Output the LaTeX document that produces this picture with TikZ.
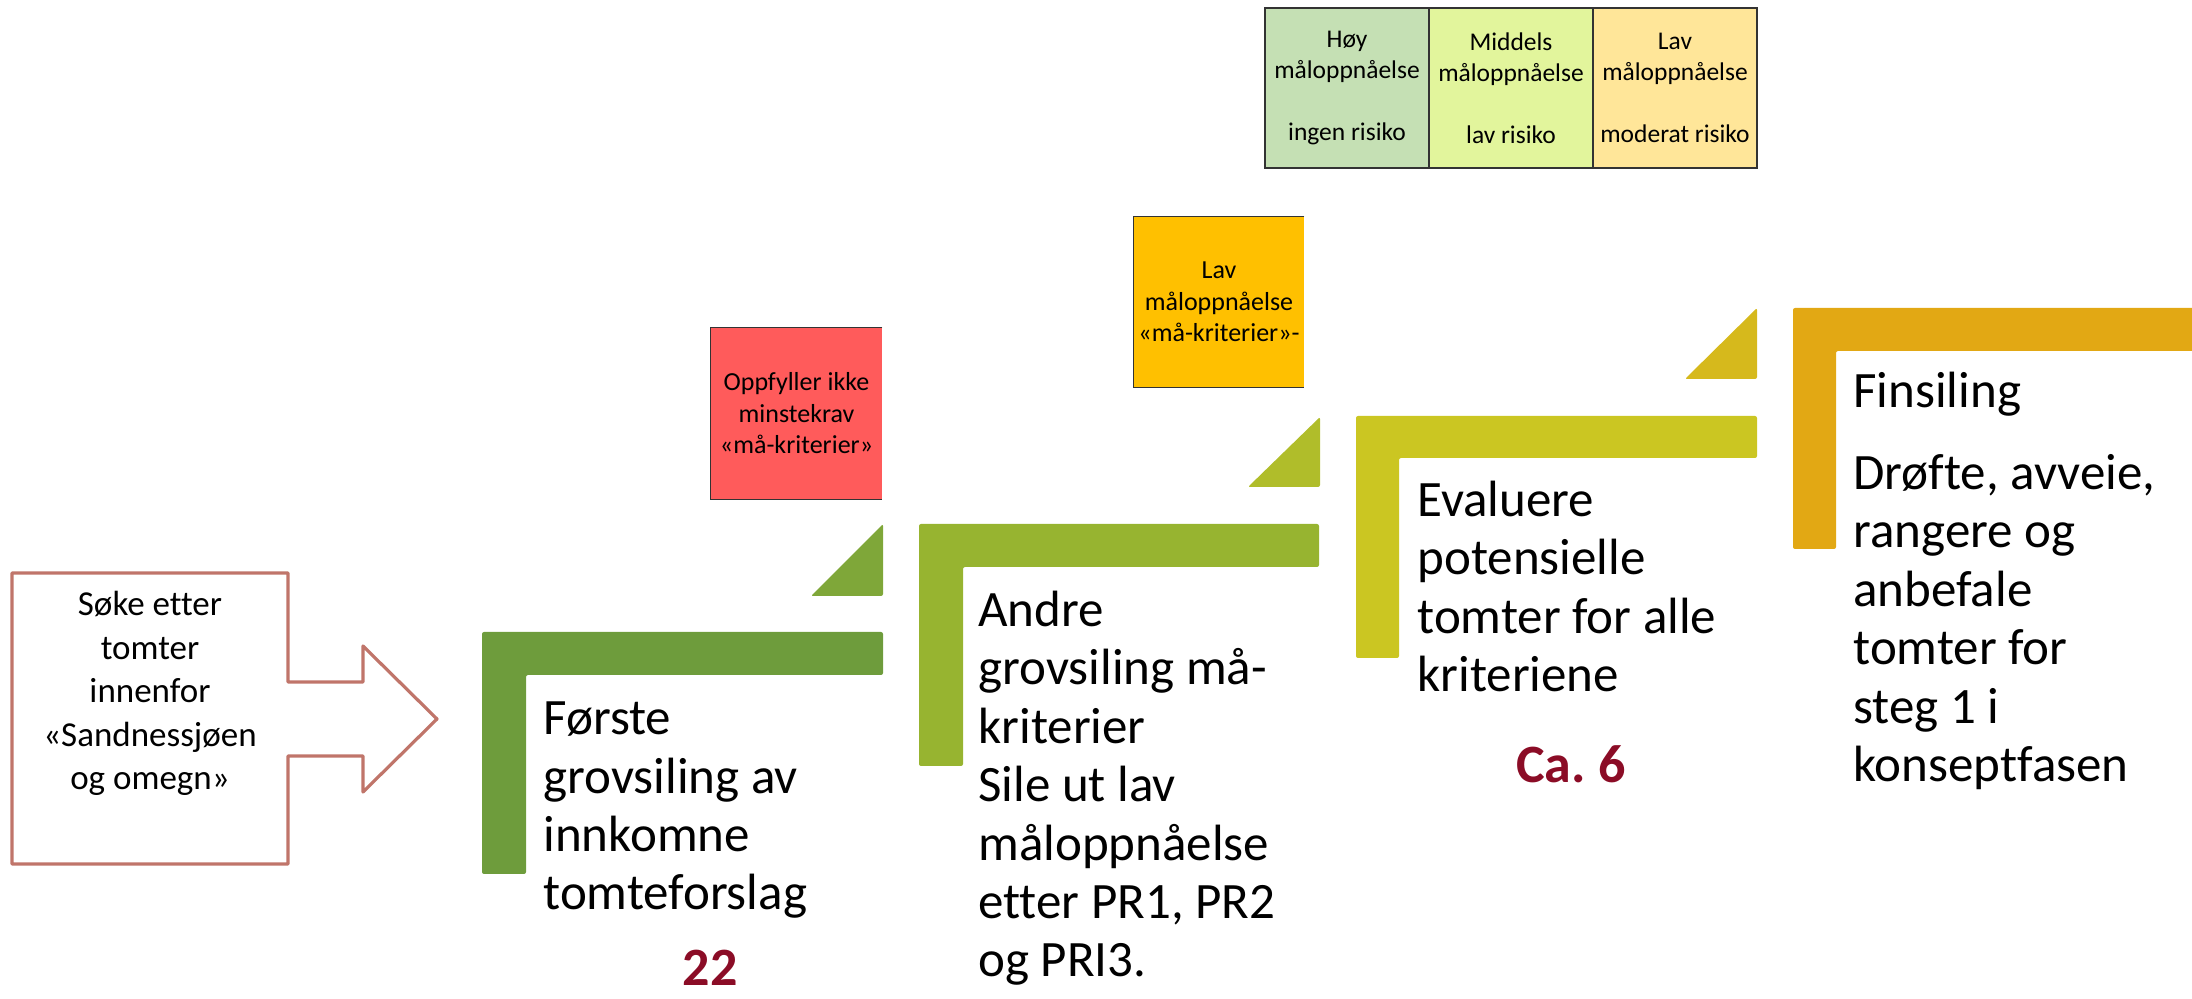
\documentclass[tikz,border=0pt]{standalone}
\usepackage{fontspec}
\setmainfont{Carlito}[Ligatures=NoCommon]
\usetikzlibrary{positioning}
\frenchspacing

\definecolor{arrowred}{RGB}{192,117,106}
\definecolor{stepA}{RGB}{110,156,60}
\definecolor{triA}{RGB}{127,167,57}
\definecolor{stepB}{RGB}{151,180,48}
\definecolor{triB}{RGB}{176,189,42}
\definecolor{stepC}{RGB}{203,198,34}
\definecolor{triC}{RGB}{214,185,28}
\definecolor{stepD}{RGB}{226,168,20}
\definecolor{redbox}{RGB}{255,91,91}
\definecolor{orangebox}{RGB}{255,192,0}
\definecolor{legA}{RGB}{197,224,180}
\definecolor{legB}{RGB}{226,245,156}
\definecolor{legC}{RGB}{255,230,153}
\definecolor{countred}{RGB}{139,12,38}

\begin{document}
\begin{tikzpicture}[x=0.5pt,y=-0.5pt,
		bigtext/.style={font=\fontsize{25.5}{29.25}\selectfont,align=left,anchor=base west,inner sep=0pt},
		boxtext/.style={font=\fontsize{13}{15.75}\selectfont,align=center,inner sep=0pt,minimum width=85.5pt,minimum height=85.5pt},
		boxline/.style={draw=black!80,line width=0.6pt},
		legcell/.style={draw=black!80,line width=0.6pt,font=\fontsize{12.75}{15.5}\selectfont,align=center,inner sep=0pt,outer sep=0pt,minimum width=82pt,minimum height=80pt},
		countlabel/.style={font=\bfseries\fontsize{27}{32}\selectfont,text=countred,anchor=base,inner sep=0pt}]
		\useasboundingbox (0,0) rectangle (2192,999);

		% start arrow (last line sits at the base)
		\draw [draw=arrowred,line width=1.6pt,line join=round] (12,573) -- (288,573) -- (288,682) -- (363,682) -- (363,646) -- (437,719) -- (363,792) -- (363,756) -- (288,756) -- (288,864) -- (12,864) -- cycle;
		\node (soke) [align=center,font=\fontsize{17.5}{21.75}\selectfont,anchor=base,inner sep=0pt] at (150,790) {Søke etter\\tomter\\innenfor\\«Sandnessjøen\\og omegn»};

		% steps
		\fill [stepA,rounded corners=1pt] (482,874) -- (482,632) -- (883,632) -- (883,675) -- (526,675) -- (526,874) -- cycle;
		\fill [triA,rounded corners=1pt] (811,596) -- (883,596) -- (883,524) -- cycle;
		\node (forste) [bigtext] at (543,910) {Første\\grovsiling av\\innkomne\\tomteforslag};
		\node (n22) [countlabel] at (710,986) {22};

		\fill [stepB,rounded corners=1pt] (919,766) -- (919,524) -- (1319,524) -- (1319,567) -- (963,567) -- (963,766) -- cycle;
		\fill [triB,rounded corners=1pt] (1248,487) -- (1320,487) -- (1320,417) -- cycle;
		\node (andre) [bigtext] at (978,977) {Andre\\grovsiling må-\\kriterier\\Sile ut lav\\måloppnåelse\\etter PR1, PR2\\og PRI3.};

		\fill [stepC,rounded corners=1pt] (1356,658) -- (1356,416) -- (1757,416) -- (1757,458) -- (1399,458) -- (1399,658) -- cycle;
		\fill [triC,rounded corners=1pt] (1685,379) -- (1757,379) -- (1757,308) -- cycle;
		\node (evaluere) [bigtext] at (1417,692) {Evaluere\\potensielle\\tomter for alle\\kriteriene};
		\node (ca6) [countlabel] at (1571,783) {Ca. 6};

		\fill [stepD,rounded corners=1pt] (1793,549) -- (1793,308) -- (2200,308) -- (2200,351) -- (1836,351) -- (1836,549) -- cycle;
		\node (finsiling) [bigtext] at (1853,782) {Finsiling\\[11.75pt]Drøfte, avveie,\\rangere og\\anbefale\\tomter for\\steg 1 i\\konseptfasen};

		% sorted out
		\node (ikke) [boxtext,fill=redbox] at (796.5,413.5) {Oppfyller ikke\\minstekrav\\«må-kriterier»};
		\draw [boxline] (ikke.north east) -- (ikke.north west) -- (ikke.south west) -- (ikke.south east);

		\node (lavmal) [boxtext,fill=orangebox,minimum width=85pt,minimum height=85pt] at (1219,302) {Lav\\måloppnåelse\\«må-kriterier»-};
		\draw [boxline] (lavmal.north east) -- (lavmal.north west) -- (lavmal.south west) -- (lavmal.south east);

		% legend
		\node (hoy) [legcell,fill=legA,anchor=north west] at (1265,8) {Høy\\måloppnåelse\\[15.5pt]ingen risiko};
		\node (middels) [legcell,fill=legB,right=0pt of hoy] {Middels\\måloppnåelse\\[15.5pt]lav risiko};
		\node (lav) [legcell,fill=legC,right=0pt of middels] {Lav\\måloppnåelse\\[15.5pt]moderat risiko};
	\end{tikzpicture}
\end{document}
